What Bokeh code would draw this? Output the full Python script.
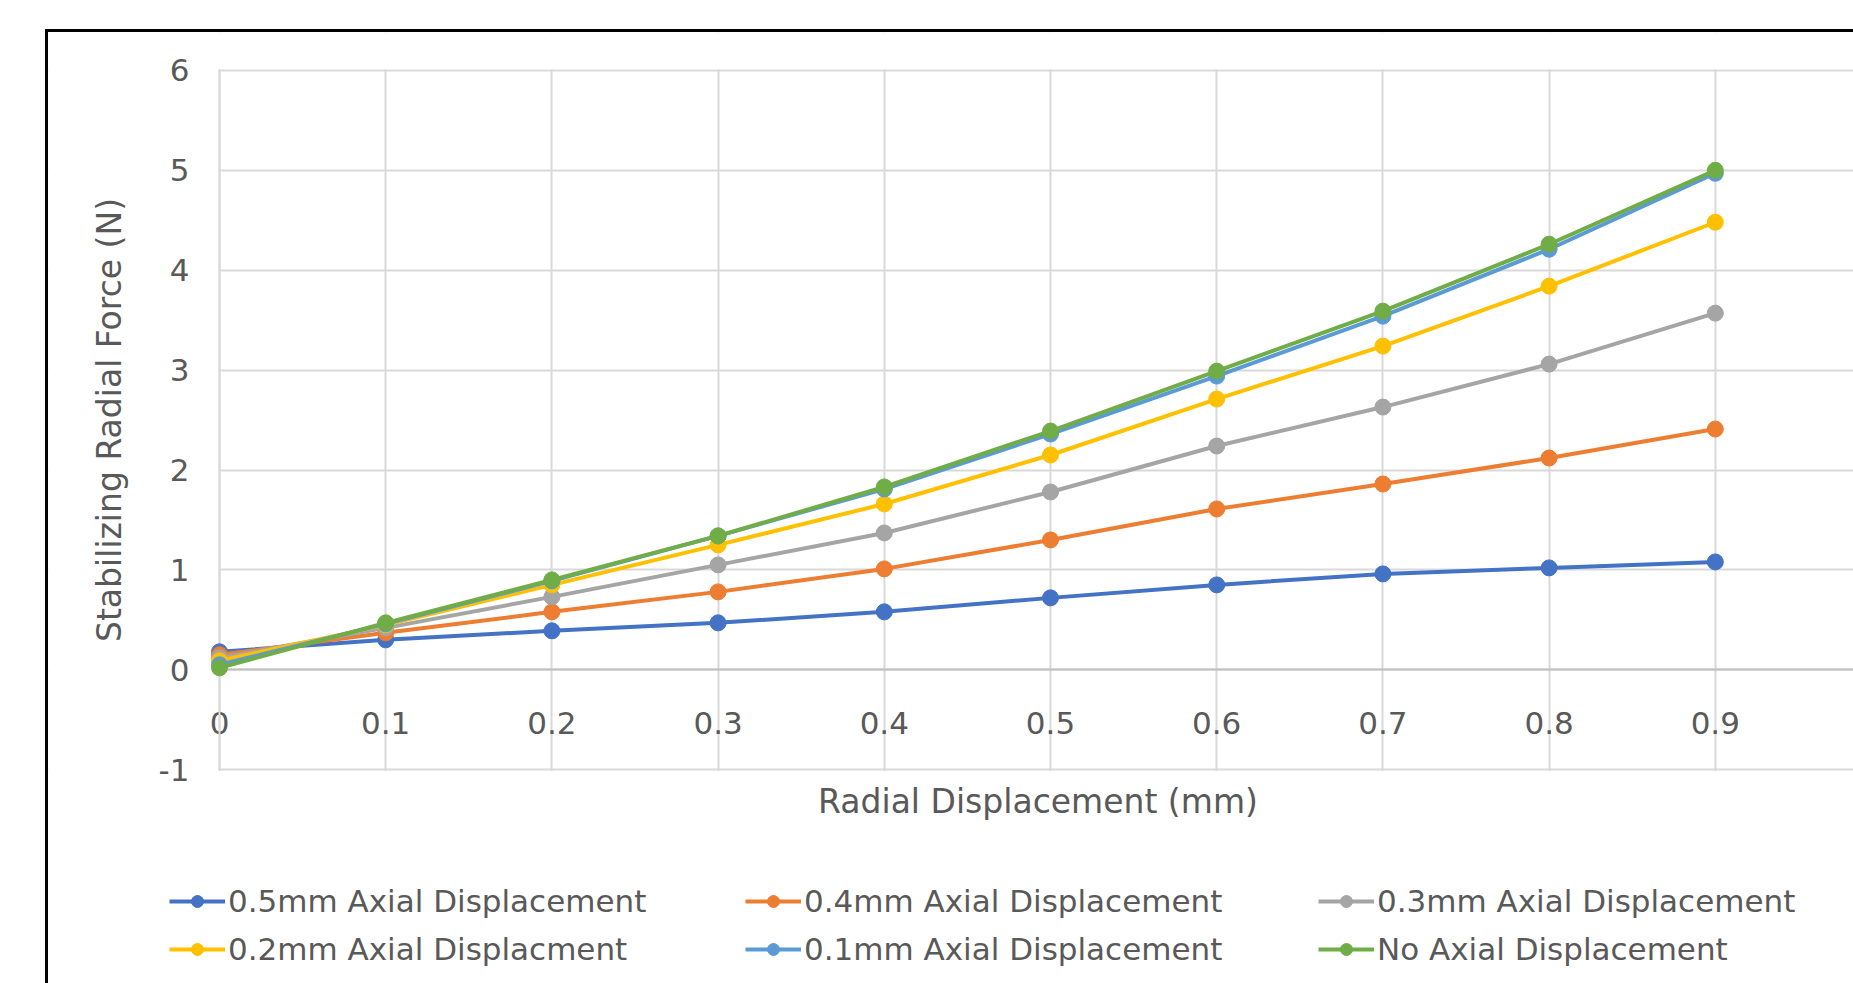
from bokeh.plotting import figure
from bokeh.models import Legend, LegendItem, FixedTicker, Range1d, BoxAnnotation
from bokeh.embed import file_html
from bokeh.resources import INLINE

# ---- data ----
radial_disp = [0.0, 0.1, 0.2, 0.3, 0.4, 0.5, 0.6, 0.7, 0.8, 0.9]
force_axial_05 = [0.18, 0.30, 0.39, 0.47, 0.58, 0.72, 0.85, 0.96, 1.02, 1.08]
force_axial_04 = [0.15, 0.37, 0.58, 0.78, 1.01, 1.30, 1.61, 1.86, 2.12, 2.41]
force_axial_03 = [0.12, 0.42, 0.73, 1.05, 1.37, 1.78, 2.24, 2.63, 3.06, 3.57]
force_axial_02 = [0.09, 0.45, 0.85, 1.25, 1.66, 2.15, 2.71, 3.24, 3.84, 4.48]
force_axial_01 = [0.05, 0.46, 0.89, 1.34, 1.81, 2.36, 2.94, 3.54, 4.21, 4.97]
force_axial_00 = [0.02, 0.47, 0.90, 1.34, 1.83, 2.39, 2.99, 3.59, 4.26, 5.00]

series_names = ["0.5mm Axial Displacement", "0.4mm Axial Displacement",
                "0.3mm Axial Displacement", "0.2mm Axial Displacment",
                "0.1mm Axial Displacement", "No Axial Displacement"]
series_values = [force_axial_05, force_axial_04, force_axial_03,
                 force_axial_02, force_axial_01, force_axial_00]
series_colors = ["#4472C4", "#ED7D31", "#A5A5A5", "#FFC000", "#5B9BD5", "#70AD47"]

x_ticks = [0.0, 0.1, 0.2, 0.3, 0.4, 0.5, 0.6, 0.7, 0.8, 0.9]
x_tick_labels = ["0", "0.1", "0.2", "0.3", "0.4", "0.5", "0.6", "0.7", "0.8", "0.9"]
x_axis_max = 1.0
y_ticks = [-1, 0, 1, 2, 3, 4, 5, 6]
y_tick_labels = ["-1", "0", "1", "2", "3", "4", "5", "6"]

x_title = "Radial Displacement (mm)"
y_title = "Stabilizing Radial Force (N)"

FONT = "DejaVu Sans"
TXT = "#595959"
GRID = "#D9D9D9"

# geometry of the canvas (starts at page (48, 32) because of margin + border)
W, H = 1808, 954
X0_PX, PX_PER_X = 171.0, 1662.0      # canvas x of x=0, pixels per unit x
Y0_PX, PX_PER_Y = 637.3, 99.9        # canvas y of y=0, pixels per unit y

x_rng = Range1d(-X0_PX / PX_PER_X, (W - X0_PX) / PX_PER_X)
y_rng = Range1d(-(H - Y0_PX) / PX_PER_Y, Y0_PX / PX_PER_Y)

p = figure(width=W, height=H, output_backend="svg", toolbar_location=None,
           x_range=x_rng, y_range=y_rng, min_border=0)
p.margin = (29, 0, 0, 45)
p.styles = {"border-left": "3px solid black", "border-top": "3px solid black"}
p.outline_line_color = None
p.background_fill_color = "white"
p.border_fill_color = "white"

# grids
p.xgrid.ticker = FixedTicker(ticks=x_ticks)
p.ygrid.ticker = FixedTicker(ticks=y_ticks)
for g in (p.xgrid, p.ygrid):
    g.grid_line_color = GRID
    g.grid_line_width = 2

# keep the grid inside the plot area
ymin, ymax = min(y_ticks), max(y_ticks)
eps_y, eps_x = 1.2 / PX_PER_Y, 1.2 / PX_PER_X
for kw in (dict(bottom=ymax + eps_y), dict(top=ymin - eps_y), dict(right=0 - eps_x)):
    p.add_layout(BoxAnnotation(fill_color="white", fill_alpha=1, line_color=None,
                               level="underlay", **kw))

# y axis (crossing at x = 0)
ya = p.yaxis[0]
ya.fixed_location = 0
ya.bounds = (ymin, ymax)
ya.ticker = FixedTicker(ticks=y_ticks)
ya.major_label_overrides = {t: s for t, s in zip(y_ticks, y_tick_labels)}
ya.axis_line_color = GRID
ya.axis_line_width = 2
ya.major_tick_out = 0
ya.major_tick_in = 0
ya.minor_tick_out = 0
ya.minor_tick_in = 0
ya.major_label_standoff = 30
ya.major_label_text_font = FONT
ya.major_label_text_font_size = "31px"
ya.major_label_text_color = TXT
ya.axis_label = y_title
ya.axis_label_text_font = FONT
ya.axis_label_text_font_size = "33px"
ya.axis_label_text_font_style = "normal"
ya.axis_label_text_color = TXT
ya.axis_label_standoff = 27

# x axis (crossing at y = 0)
xa = p.xaxis[0]
xa.fixed_location = 0
xa.bounds = (0, x_axis_max)
xa.ticker = FixedTicker(ticks=x_ticks)
xa.major_label_overrides = {t: s for t, s in zip(x_ticks, x_tick_labels)}
xa.axis_line_color = "#BFBFBF"
xa.axis_line_width = 2
xa.major_tick_out = 0
xa.major_tick_in = 0
xa.minor_tick_out = 0
xa.minor_tick_in = 0
xa.major_label_standoff = 42
xa.major_label_text_font = FONT
xa.major_label_text_font_size = "31px"
xa.major_label_text_color = TXT
xa.axis_label = x_title
xa.axis_label_text_font = FONT
xa.axis_label_text_font_size = "33px"
xa.axis_label_text_font_style = "normal"
xa.axis_label_text_color = TXT
xa.axis_label_standoff = 45

# series
items = []
for name, vals, col in zip(series_names, series_values, series_colors):
    lr = p.line(radial_disp, vals, line_color=col, line_width=4, level="overlay")
    sr = p.scatter(radial_disp, vals, marker="circle", size=16,
                   fill_color=col, line_color=col, level="overlay")
    items.append(LegendItem(label=name, renderers=[lr, sr]))

# three legend columns, filled row by row as in the reference
col_offsets = [121, 697, 1270]
for c, xoff in enumerate(col_offsets):
    leg = Legend(items=[items[c], items[c + 3]], location=(xoff, 19),
                 orientation="vertical",
                 label_text_font=FONT, label_text_font_size="31px",
                 label_text_color=TXT, glyph_width=56, glyph_height=30,
                 label_standoff=3, label_height=35, spacing=12,
                 padding=0, margin=0, border_line_color=None,
                 background_fill_alpha=0)
    p.add_layout(leg, "center")

open("out.html", "w").write(file_html(p, INLINE))
